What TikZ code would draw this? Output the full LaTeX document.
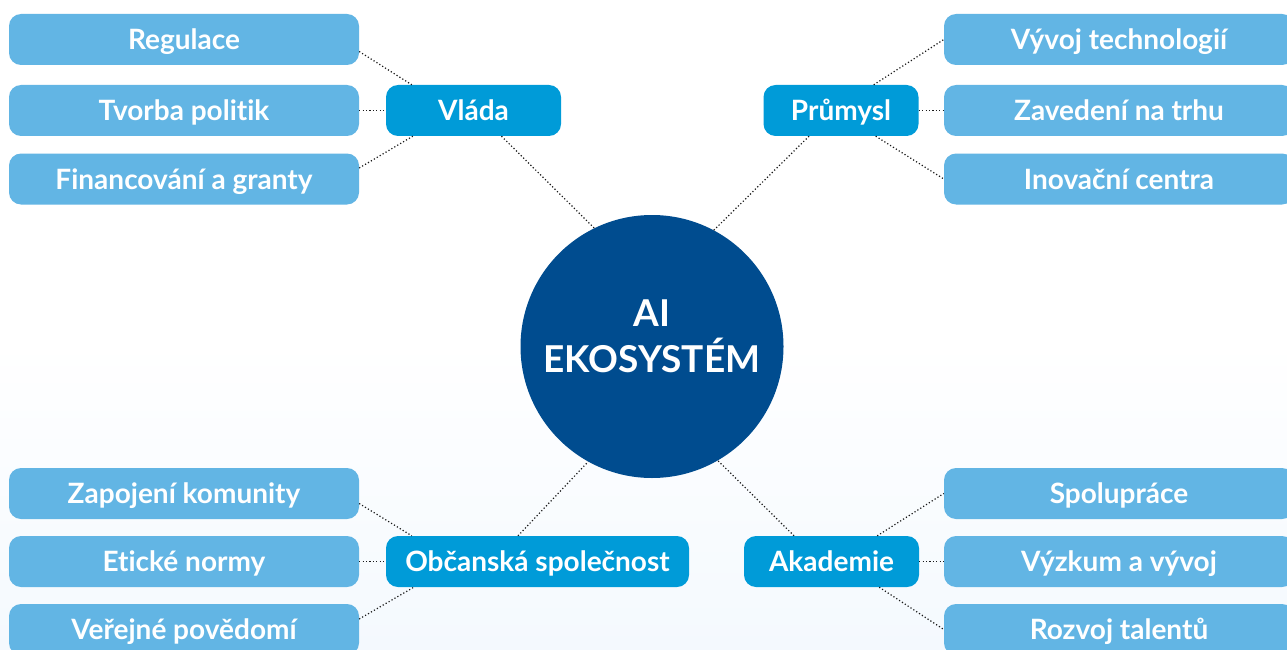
\documentclass[tikz,border=0pt]{standalone}
\usepackage{fontspec}
\setmainfont{Lato}[Ligatures=NoCommon]
\usetikzlibrary{calc}
\definecolor{leafblue}{HTML}{62B5E4}
\definecolor{hubblue}{HTML}{009BD8}
\definecolor{coreblue}{HTML}{004C8F}
\definecolor{bgbottom}{HTML}{F4F9FE}
\tikzset{
  leafbox/.style={rectangle, rounded corners=12pt, fill=leafblue, text=white,
    minimum width=350pt, minimum height=51pt, inner sep=0pt,
    text height=20pt, text depth=0pt,
    font=\fontsize{28}{32}\selectfont\bfseries},
  hubbox/.style={rectangle, rounded corners=12pt, fill=hubblue, text=white,
    minimum height=51pt, inner sep=0pt,
    text height=20pt, text depth=0pt,
    font=\fontsize{28}{32}\selectfont\bfseries},
  link/.style={draw=black!90, line width=1.2pt, dash pattern=on 1.2pt off 2.2pt},
}
\begin{document}
\begin{tikzpicture}[x=1pt,y=-1pt]
\useasboundingbox (0,0) rectangle (1287,650);
\fill[white] (0,0) rectangle (1287,340);
\shade[top color=white, bottom color=bgbottom] (0,340) rectangle (1287,650);

% core
\node[circle, fill=coreblue, minimum size=263pt, inner sep=0pt] (core) at (652,346.5) {};
\node[text=white, align=center, font=\fontsize{37}{46}\selectfont\bfseries] (coretext) at (652,336) {AI\\EKOSYSTÉM};

% hubs
\node[hubbox, minimum width=175pt] (vlada) at (473.5,110.5) {Vláda};
\node[hubbox, minimum width=155pt] (prum) at (841,110.5) {Průmysl};
\node[hubbox, minimum width=303pt] (obc) at (537.5,561.5) {Občanská společnost};
\node[hubbox, minimum width=175pt] (aka) at (831.5,561.5) {Akademie};

% leaves left top
\node[leafbox] (reg) at (184,39.5) {Regulace};
\node[leafbox] (tvo) at (184,110.5) {Tvorba politik};
\node[leafbox] (fin) at (184,179) {Financování a granty};
% leaves right top
\node[leafbox] (vyv) at (1119,39.5) {Vývoj technologií};
\node[leafbox] (zav) at (1119,110.5) {Zavedení na trhu};
\node[leafbox] (ino) at (1119,179) {Inovační centra};
% leaves left bottom
\node[leafbox] (zap) at (184,493.5) {Zapojení komunity};
\node[leafbox] (eti) at (184,561.5) {Etické normy};
\node[leafbox] (ver) at (184,629.5) {Veřejné povědomí};
% leaves right bottom
\node[leafbox] (spo) at (1119,493.5) {Spolupráce};
\node[leafbox] (vyz) at (1119,561.5) {Výzkum a vývoj};
\node[leafbox] (roz) at (1119,629.5) {Rozvoj talentů};

% connectors hub-core
\draw[link] ([xshift=28pt]vlada.south) -- (core.116);
\draw[link] ([xshift=-32pt]prum.south) -- (core.62);
\draw[link] ([xshift=-19.5pt]obc.north) -- (core.241.6);
\draw[link] ([xshift=-37.5pt]aka.north) -- (core.300.5);

% Vláda leaves
\draw[link] ([yshift=-12pt]reg.east) -- ([xshift=26pt]vlada.north west);
\draw[link] (tvo.east) -- (vlada.west);
\draw[link] ([yshift=11pt]fin.east) -- ([xshift=27pt]vlada.south west);
% Průmysl leaves
\draw[link] ([xshift=-45pt]prum.north east) -- (vyv.west);
\draw[link] (prum.east) -- (zav.west);
\draw[link] ([xshift=-43pt]prum.south east) -- (ino.west);
% Občanská leaves
\draw[link] ([yshift=-10pt]zap.east) -- ([xshift=26pt]obc.north west);
\draw[link] (eti.east) -- (obc.west);
\draw[link] ([yshift=10.5pt]ver.east) -- ([xshift=28pt]obc.south west);
% Akademie leaves
\draw[link] ([xshift=-42pt]aka.north east) -- (spo.west);
\draw[link] (aka.east) -- (vyz.west);
\draw[link] ([xshift=-40pt]aka.south east) -- (roz.west);
\end{tikzpicture}
\end{document}
